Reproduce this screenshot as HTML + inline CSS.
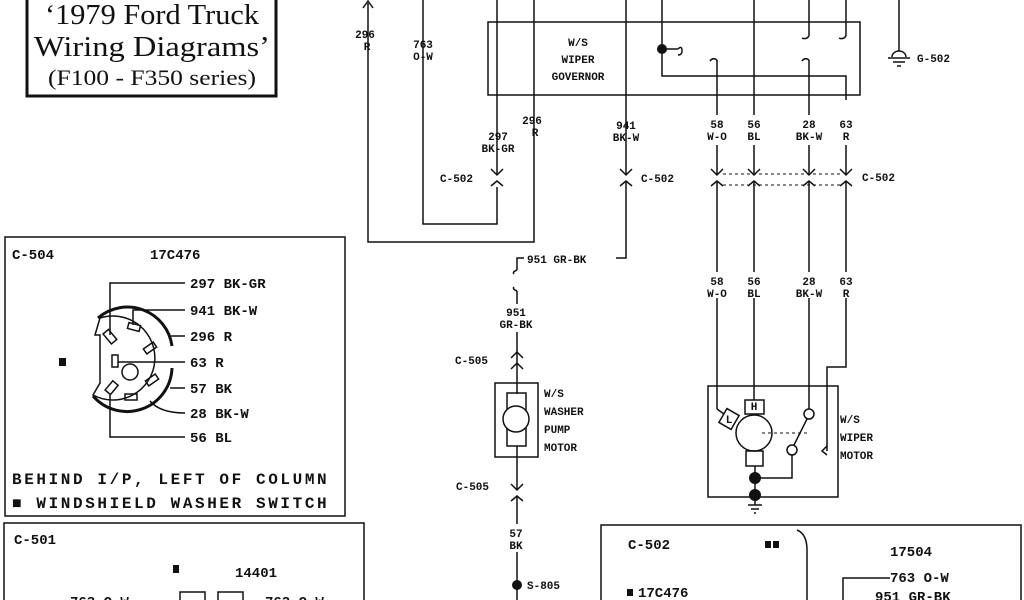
<!DOCTYPE html>
<html><head><meta charset="utf-8"><style>
html,body{margin:0;padding:0;background:#fff;}
svg{display:block;}
text{font-family:"Liberation Mono",monospace;font-weight:bold;fill:#111;}
.s{font-size:11px;}
.m{font-size:14px;}
.b{font-size:16px;letter-spacing:2.6px;}
.t{font-family:"Liberation Serif",serif;font-weight:normal;}
</style></head><body>
<svg width="1024" height="600" viewBox="0 0 1024 600" xmlns="http://www.w3.org/2000/svg">
<g stroke="#111" stroke-width="1.5" fill="none">
<rect x="27" y="-4" width="249" height="100" stroke-width="3"/>
<rect x="488" y="22" width="372" height="73"/>
<polyline points="662,0 662,76 846,76 846,100"/>
<line x1="662" y1="49" x2="678" y2="49"/>
<path d="M678 49 q4 -4 4 2 q0 4 -4 4"/>
<polyline points="368,3 368,242 534,242 534,0"/>
<path d="M363 8 L368 1 L373 8"/>
<polyline points="423,0 423,224 497,224 497,187"/>
<line x1="497" y1="0" x2="497" y2="175"/>
<path d="M491 169 L497 175 L503 169 M491 186 L497 181 L503 186"/>
<line x1="626" y1="0" x2="626" y2="175"/>
<path d="M620 169 L626 175 L632 169 M620 186 L626 181 L632 186"/>
<polyline points="626,181 626,258 616,258"/>
<polyline points="524,258 517,258 517,270"/>
<path d="M517 270 q-5 2 -3 4"/>
<path d="M517 291 q-5 -2 -3 -4"/>
<line x1="517" y1="291" x2="517" y2="304"/>
<line x1="517" y1="332" x2="517" y2="394"/>
<path d="M511 358 L517 352 L523 358 M511 369 L517 363 L523 369"/>
<line x1="717" y1="60" x2="717" y2="115"/>
<path d="M717 60 q-4 -3 -7 1"/>
<line x1="754" y1="0" x2="754" y2="115"/>
<line x1="809" y1="0" x2="809" y2="36"/>
<path d="M809 36 q-3 4 -7 2"/>
<line x1="809" y1="60" x2="809" y2="115"/>
<path d="M809 60 q-4 -3 -7 1"/>
<line x1="846" y1="0" x2="846" y2="36"/>
<path d="M846 36 q-3 4 -7 2"/>
<line x1="899" y1="0" x2="899" y2="51"/>
<path d="M892 57 a7 6 0 0 1 14 0 M888 58 L910 58 M893 62 L905 62 M897 66 L901 66"/>
<g>
<line x1="717" y1="145" x2="717" y2="175"/><line x1="754" y1="145" x2="754" y2="175"/>
<line x1="809" y1="145" x2="809" y2="175"/><line x1="846" y1="145" x2="846" y2="175"/>
<path d="M711 169 L717 175 L723 169 M748 169 L754 175 L760 169 M803 169 L809 175 L815 169 M840 169 L846 175 L852 169"/>
<path d="M711 186 L717 181 L723 186 M748 186 L754 181 L760 186 M803 186 L809 181 L815 186 M840 186 L846 181 L852 186"/>
<line x1="723" y1="174" x2="840" y2="174" stroke-dasharray="3,3" stroke-width="1"/>
<line x1="723" y1="185" x2="840" y2="185" stroke-dasharray="3,3" stroke-width="1"/>
<line x1="717" y1="181" x2="717" y2="272"/><line x1="754" y1="181" x2="754" y2="272"/>
<line x1="809" y1="181" x2="809" y2="272"/><line x1="846" y1="181" x2="846" y2="272"/>
</g>
<line x1="717" y1="298" x2="717" y2="409"/>
<line x1="754" y1="298" x2="754" y2="400"/>
<line x1="809" y1="298" x2="809" y2="409"/>
<polyline points="846,298 846,367 827,367 827,451"/>
<path d="M827 446 L822 451 L827 455"/>
<rect x="708" y="386" width="130" height="111"/>
<line x1="717" y1="409" x2="724" y2="414"/>
<rect x="722" y="411" width="14" height="16" transform="rotate(30 729 419)"/>
<rect x="745" y="400" width="19" height="14"/>
<circle cx="754" cy="433" r="18"/>
<rect x="746" y="451" width="17" height="15"/>
<line x1="755" y1="466" x2="755" y2="505"/>
<line x1="762" y1="433" x2="809" y2="433" stroke-dasharray="3,3" stroke-width="1"/>
<circle cx="809" cy="414" r="5"/>
<circle cx="792" cy="450" r="5"/>
<line x1="807" y1="419" x2="794" y2="445"/>
<polyline points="792,455 792,478 755,478"/>
<path d="M748 505 L762 505 M751 509 L759 509 M754 513 L756 513"/>
<rect x="495" y="383" width="43" height="74"/>
<rect x="507" y="393" width="19" height="53"/>
<circle cx="516" cy="419" r="13" fill="#fff"/>
<line x1="517" y1="446" x2="517" y2="490"/>
<path d="M511 484 L517 490 L523 484 M511 501 L517 496 L523 501"/>
<line x1="517" y1="496" x2="517" y2="524"/>
<line x1="517" y1="552" x2="517" y2="600"/>
<rect x="5" y="237" width="340" height="279"/>
<path d="M95 335 L100 318 A42 42 0 1 1 93 395 L100 383 L100 335 Z"/>
<path d="M98 318 A45 45 0 0 1 172 346" stroke-width="3"/>
<path d="M93 396 A45 45 0 0 0 172 368" stroke-width="3"/>
<polyline points="110,335 110,283 185,283"/>
<polyline points="133,325 133,310 185,310"/>
<line x1="171" y1="336" x2="185" y2="336"/>
<line x1="118" y1="362" x2="185" y2="362"/>
<line x1="170" y1="388" x2="185" y2="388"/>
<path d="M150 401 Q160 413 185 413"/>
<polyline points="110,395 110,437 185,437"/>
<rect x="106" y="330" width="7" height="13" transform="rotate(-40 110 336)"/>
<rect x="128" y="324" width="12" height="6" transform="rotate(15 134 327)"/>
<rect x="144" y="345" width="12" height="6" transform="rotate(-35 150 348)"/>
<rect x="112" y="355" width="6" height="12"/>
<circle cx="130" cy="372" r="8"/>
<rect x="146" y="377" width="12" height="6" transform="rotate(-35 152 380)"/>
<rect x="108" y="382" width="7" height="12" transform="rotate(40 112 388)"/>
<rect x="125" y="394" width="12" height="6"/>
<rect x="4" y="523" width="360" height="90"/>
<rect x="180" y="592" width="25" height="20"/><rect x="218" y="592" width="25" height="20"/>
<rect x="601" y="525" width="420" height="90"/>
<path d="M797 530 q10 4 10 20 L807 600"/>
<polyline points="843,600 843,578 890,578"/>
</g>
<g fill="#111">
<circle cx="662" cy="49" r="5"/>
<circle cx="755" cy="478" r="6"/>
<circle cx="755" cy="495" r="6"/>
<circle cx="517" cy="585" r="5"/>
<rect x="59" y="358" width="7" height="8"/>
<rect x="173" y="565" width="6" height="8"/>
<rect x="765" y="541" width="6" height="7"/><rect x="773" y="541" width="6" height="7"/>
<rect x="627" y="589" width="6" height="7"/>
</g>
<text class="t" x="152" y="24" font-size="29" text-anchor="middle" textLength="214" lengthAdjust="spacingAndGlyphs">‘1979 Ford Truck</text>
<text class="t" x="152" y="56" font-size="29" text-anchor="middle" textLength="236" lengthAdjust="spacingAndGlyphs">Wiring Diagrams’</text>
<text class="t" x="152" y="85" font-size="22" text-anchor="middle" textLength="208" lengthAdjust="spacingAndGlyphs">(F100 - F350 series)</text>

<g class="s" text-anchor="middle">
<text x="365" y="38">296</text><text x="367" y="50">R</text>
<text x="423" y="48">763</text><text x="423" y="60">O-W</text>
<text x="578" y="46">W/S</text><text x="578" y="63">WIPER</text><text x="578" y="80">GOVERNOR</text>
<text x="498" y="140">297</text><text x="498" y="152">BK-GR</text>
<text x="532" y="124">296</text><text x="535" y="136">R</text>
<text x="626" y="129">941</text><text x="626" y="141">BK-W</text>
<text x="717" y="128">58</text><text x="717" y="140">W-O</text>
<text x="754" y="128">56</text><text x="754" y="140">BL</text>
<text x="809" y="128">28</text><text x="809" y="140">BK-W</text>
<text x="846" y="128">63</text><text x="846" y="140">R</text>
<text x="717" y="285">58</text><text x="717" y="297">W-O</text>
<text x="754" y="285">56</text><text x="754" y="297">BL</text>
<text x="809" y="285">28</text><text x="809" y="297">BK-W</text>
<text x="846" y="285">63</text><text x="846" y="297">R</text>
<text x="516" y="316">951</text><text x="516" y="328">GR-BK</text>
<text x="516" y="537">57</text><text x="516" y="549">BK</text>
<text x="754" y="410">H</text>
<text x="729" y="423">L</text>
</g>
<g class="s">
<text x="440" y="182">C-502</text>
<text x="641" y="182">C-502</text>
<text x="862" y="181">C-502</text>
<text x="917" y="62">G-502</text>
<text x="527" y="263">951 GR-BK</text>
<text x="455" y="364">C-505</text>
<text x="456" y="490">C-505</text>
<text x="527" y="589">S-805</text>
<text x="544" y="397">W/S</text><text x="544" y="415">WASHER</text><text x="544" y="433">PUMP</text><text x="544" y="451">MOTOR</text>
<text x="840" y="423">W/S</text><text x="840" y="441">WIPER</text><text x="840" y="459">MOTOR</text>
</g>
<g class="m">
<text x="12" y="259">C-504</text>
<text x="150" y="259">17C476</text>
<text x="190" y="288">297 BK-GR</text>
<text x="190" y="315">941 BK-W</text>
<text x="190" y="341">296 R</text>
<text x="190" y="367">63 R</text>
<text x="190" y="393">57 BK</text>
<text x="190" y="418">28 BK-W</text>
<text x="190" y="442">56 BL</text>
<text x="14" y="544">C-501</text>
<text x="235" y="577">14401</text>
<text x="70" y="606">763 O-W</text>
<text x="265" y="606">763 O-W</text>
<text x="628" y="549">C-502</text>
<text x="890" y="556">17504</text>
<text x="890" y="582">763 O-W</text>
<text x="638" y="597">17C476</text>
<text x="875" y="601">951 GR-BK</text>
</g>
<text class="b" x="12" y="484">BEHIND I/P, LEFT OF COLUMN</text>
<text class="b" x="12" y="508">■ WINDSHIELD WASHER SWITCH</text>
</svg>
</body></html>
